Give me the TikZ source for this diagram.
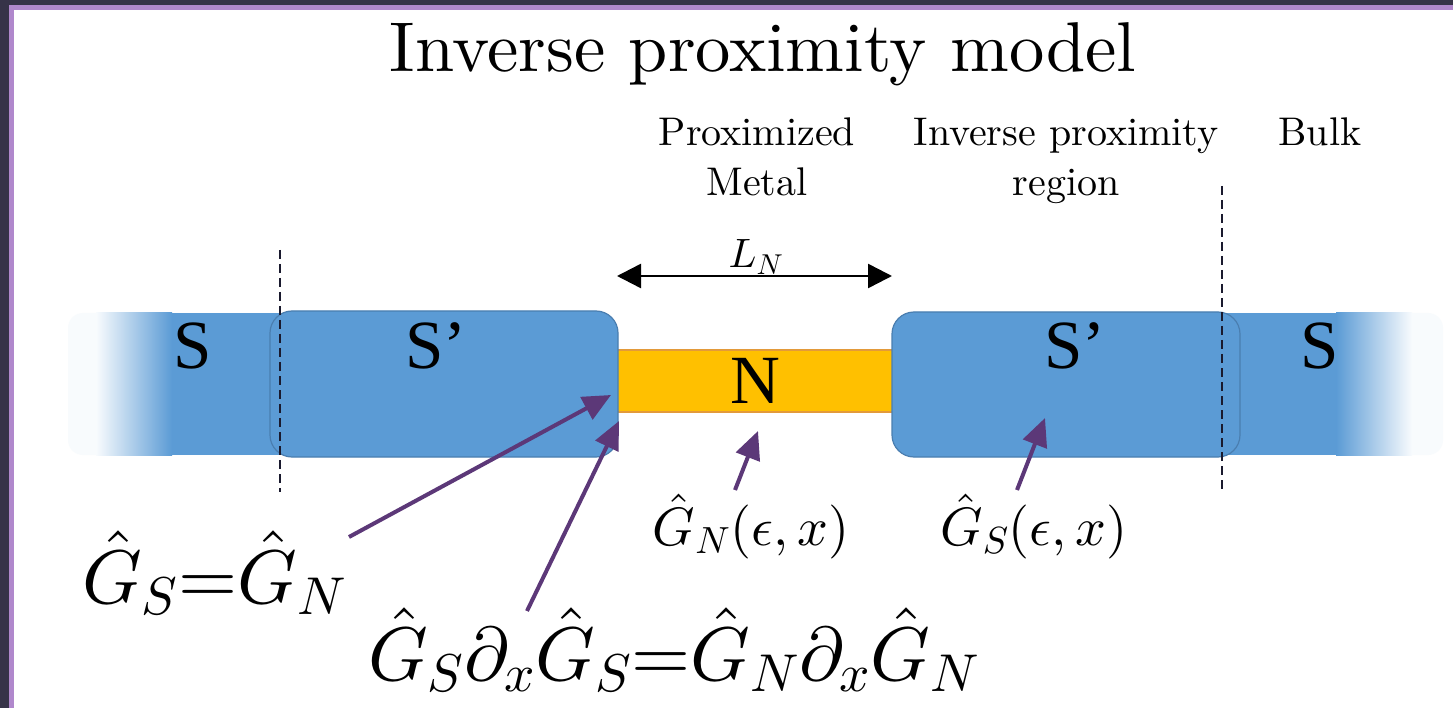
\documentclass[tikz,border=0pt]{standalone}
\usepackage[no-math]{fontspec}
\setmainfont{lmroman10-regular}[Extension=.otf]
\newfontfamily\timesf{Liberation Serif}
\DeclareFontFamily{OML}{mycmm}{\skewchar\font'177}
\DeclareFontShape{OML}{mycmm}{m}{it}{<-> cmmi10}{}
\DeclareFontFamily{OMS}{mycmsy}{\skewchar\font'60}
\DeclareFontShape{OMS}{mycmsy}{m}{n}{<-> cmsy10}{}
\DeclareFontFamily{OT1}{mycmr}{}
\DeclareFontShape{OT1}{mycmr}{m}{n}{<-> cmr10}{}
\DeclareSymbolFont{operators}{OT1}{mycmr}{m}{n}
\DeclareSymbolFont{letters}{OML}{mycmm}{m}{it}
\DeclareSymbolFont{symbols}{OMS}{mycmsy}{m}{n}
\usetikzlibrary{arrows.meta}
\definecolor{sblue}{HTML}{5B9BD5}
\definecolor{sborder}{HTML}{4A7EB0}
\definecolor{nfill}{HTML}{FFC000}
\definecolor{nborder}{HTML}{E39A3A}
\definecolor{arrowpurple}{HTML}{5C3878}
\definecolor{framedark}{HTML}{363348}
\definecolor{framepurple}{HTML}{B088CC}
\definecolor{dashcol}{HTML}{1A1A2E}
\colorlet{fadeblue}{sblue!4}
\tikzset{
  sprimebox/.style={draw=sborder, line width=1.2pt, fill=sblue, rounded corners=22pt},
  dashline/.style={draw=dashcol, line width=2.2pt, dash pattern=on 9pt off 5pt},
  dimarrow/.style={draw=black, line width=2.5pt, {Triangle[length=24pt,width=24pt]}-{Triangle[length=24pt,width=24pt]}},
  pointer/.style={draw=arrowpurple, line width=4pt, -{Triangle[length=28pt,width=25pt]}},
  barlabel/.style={font=\fontsize{69}{70}\selectfont\timesf, inner sep=0pt},
  headlabel/.style={font=\fontsize{40}{50}\selectfont, align=center, inner sep=0pt, anchor=north},
  eqlabel/.style={font=\fontsize{76}{80}\selectfont, inner sep=0pt, anchor=base west},
  funlabel/.style={font=\fontsize{54}{60}\selectfont, inner sep=0pt, anchor=base},
}
\begin{document}
\begin{tikzpicture}[x=1pt,y=-1pt]
\useasboundingbox (0,0) rectangle (1453,708);
% frame
\fill[white] (0,0) rectangle (1453,708);
\fill[framedark] (0,0) rectangle (9,708);
\fill[framedark] (0,0) rectangle (1453,5);
\fill[framepurple] (9,5) rectangle (14,708);
\fill[framepurple] (9,5) rectangle (1453,10);

% title
\node[font=\fontsize{70.5}{80}\selectfont, inner sep=0pt, anchor=base] (title) at (763,72) {Inverse proximity model};

% region headings
\node[headlabel] (hmetal) at (757,118) {Proximized\\Metal};
\node[headlabel] (hinv) at (1066,118) {Inverse proximity\\region};
\node[headlabel] (hbulk) at (1320,118) {Bulk};

% left bulk S (fading)
\fill[fadeblue, rounded corners=15pt] (68,313) rectangle (290,455);
\shade[left color=fadeblue, right color=sblue] (96,313) rectangle (172,455);
\fill[sblue] (172,313) rectangle (290,455);
% right bulk S (fading)
\fill[fadeblue, rounded corners=15pt] (1222,313) rectangle (1443,455);
\fill[sblue] (1222,313) rectangle (1336,455);
\shade[left color=sblue, right color=fadeblue] (1336,313) rectangle (1412,455);

% N bar
\node[draw=nborder, fill=nfill, line width=1.2pt, minimum width=285pt, minimum height=62pt, inner sep=0pt,
      font=\fontsize{69}{70}\selectfont\timesf] (nbar) at (755,381) {N};

% S' blocks
\draw[sprimebox] (270,311) rectangle (618,457);
\draw[sprimebox] (892,312) rectangle (1240,457);

% bar labels
\node[barlabel] (sleft) at (193,346) {S};
\node[barlabel] (spleft) at (436,346) {S’};
\node[barlabel] (spright) at (1075,346) {S’};
\node[barlabel] (sright) at (1320,346) {S};

% dashed boundaries
\draw[dashline] (280,250) -- (280,492);
\draw[dashline] (1222,186) -- (1222,492);

% L_N dimension
\coordinate (lnA) at (617,276);
\coordinate (lnB) at (892,276);
\draw[dimarrow] (lnA) -- (lnB);
\node[font=\fontsize{41}{44}\selectfont, inner sep=0pt, anchor=base] (lnlabel) at (756,268) {$L_N$};

% labels
\node[funlabel] (gn) at (751,545) {$\hat G_N(\epsilon,x)$};
\node[funlabel] (gs) at (1034,545) {$\hat G_S(\epsilon,x)$};
\node[eqlabel] (eq1) at (82,603) {$\hat G_S{=}\hat G_N$};
\node[eqlabel] (eq2) at (368,680) {$\hat G_S\partial_x\hat G_S{=}\hat G_N\partial_x\hat G_N$};

% pointers
\coordinate (t1) at (349,537);
\coordinate (h1) at (611,395);
\coordinate (t2) at (527,611);
\coordinate (h2) at (619,421);
\coordinate (t3) at (735,490);
\coordinate (h3) at (758,431);
\coordinate (t4) at (1017,490);
\coordinate (h4) at (1045,418);
\draw[pointer] (t1) -- (h1);
\draw[pointer] (t2) -- (h2);
\draw[pointer] (t3) -- (h3);
\draw[pointer] (t4) -- (h4);
\end{tikzpicture}
\end{document}
